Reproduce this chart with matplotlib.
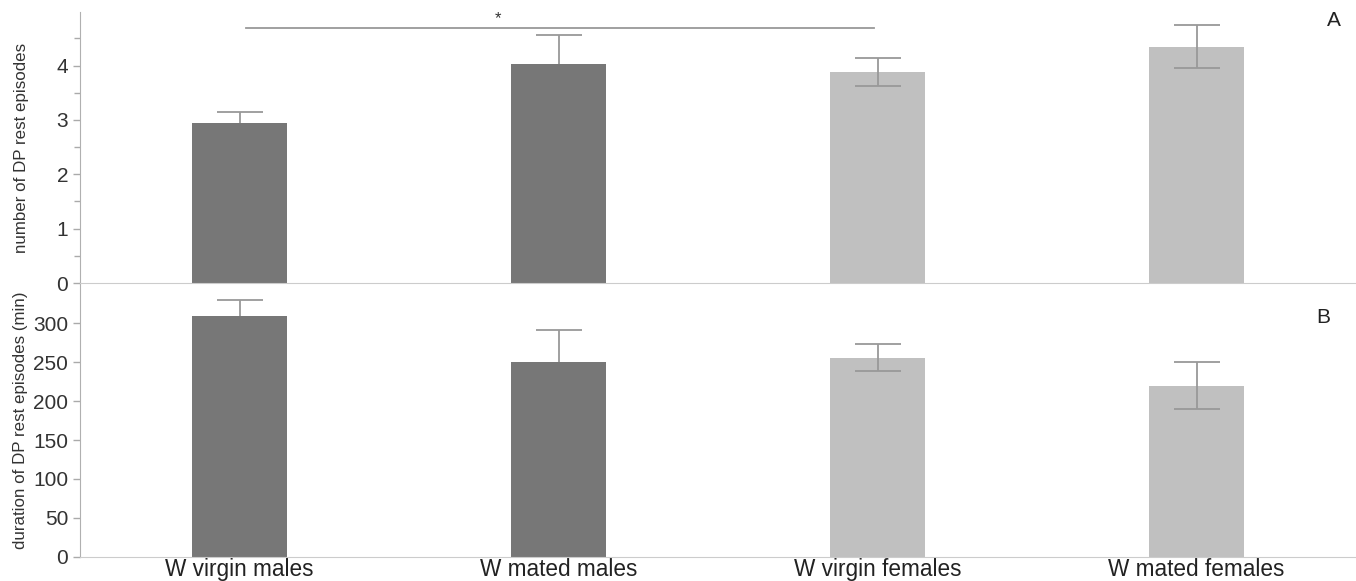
import matplotlib
matplotlib.use("Agg")
import matplotlib.pyplot as plt
import numpy as np

plt.rcParams['font.family'] = ['Liberation Sans', 'DejaVu Sans']

categories = ["W virgin males", "W mated males", "W virgin females", "W mated females"]
episodes_mean = [2.95, 4.02, 3.88, 4.35]
episodes_err = [0.20, 0.54, 0.25, 0.40]
duration_mean = [310, 251, 256, 220]
duration_err = [20, 40, 17, 30]
bar_colors = ["#777777", "#777777", "#c0c0c0", "#c0c0c0"]

fig = plt.figure(figsize=(13.56, 5.81), dpi=100)
axA = fig.add_axes([0.059, 0.5129, 0.941, 0.466])
axB = fig.add_axes([0.059, 0.0418, 0.941, 0.4711])
axB.patch.set_alpha(0)
axA.set_zorder(2)
axA.patch.set_alpha(0)

x = np.arange(len(categories))
width = 0.3
err_kw = dict(fmt="none", ecolor="#999999", elinewidth=1.3, capsize=16.5, capthick=1.3)

for ax, means, errs, top in [(axA, episodes_mean, episodes_err, 4.98),
                             (axB, duration_mean, duration_err, 352)]:
    ax.bar(x, means, width=width, color=bar_colors, zorder=2)
    for xi, m, e, c in zip(x, means, errs, bar_colors):
        z = 1 if c == "#777777" else 3
        ax.errorbar(xi, m, yerr=e, zorder=z, **err_kw)
    ax.set_xlim(-0.5, 3.5)
    ax.set_ylim(0, top)
    for s in ["top", "right"]:
        ax.spines[s].set_visible(False)
    ax.spines["left"].set_color("#b0b0b0")
    ax.spines["bottom"].set_color("#cccccc")
    ax.tick_params(axis="y", colors="#aaaaaa", labelcolor="#333333", labelsize=15, length=5, width=1)
    ax.tick_params(axis="y", which="minor", colors="#aaaaaa", length=4, width=1)

axA.set_yticks([0, 1, 2, 3, 4])
axA.set_yticks([0.5, 1.5, 2.5, 3.5, 4.5], minor=True)
axA.set_xticks([])
axA.set_ylabel("number of DP rest episodes", fontsize=12.2, color="#333333", labelpad=20)

axB.set_yticks([0, 50, 100, 150, 200, 250, 300])
axB.set_xticks(x)
axB.set_xticklabels(categories, fontsize=16.3, color="#222222")
axB.tick_params(axis="x", length=0, pad=1)
axB.set_ylabel("duration of DP rest episodes (min)", fontsize=12.2, color="#333333", labelpad=4)

# significance bar
axA.plot([0.02, 1.99], [4.69, 4.69], color="#999999", lw=1.3, zorder=3)
axA.text(0.81, 4.72, "*", ha="center", va="bottom", fontsize=12, color="#333333")

fig.text(0.984, 0.965, "A", fontsize=15, color="#222222", ha="center", va="center")
fig.text(0.9757, 0.4527, "B", fontsize=15, color="#222222", ha="center", va="center")

fig.savefig("out.png", dpi=100)
